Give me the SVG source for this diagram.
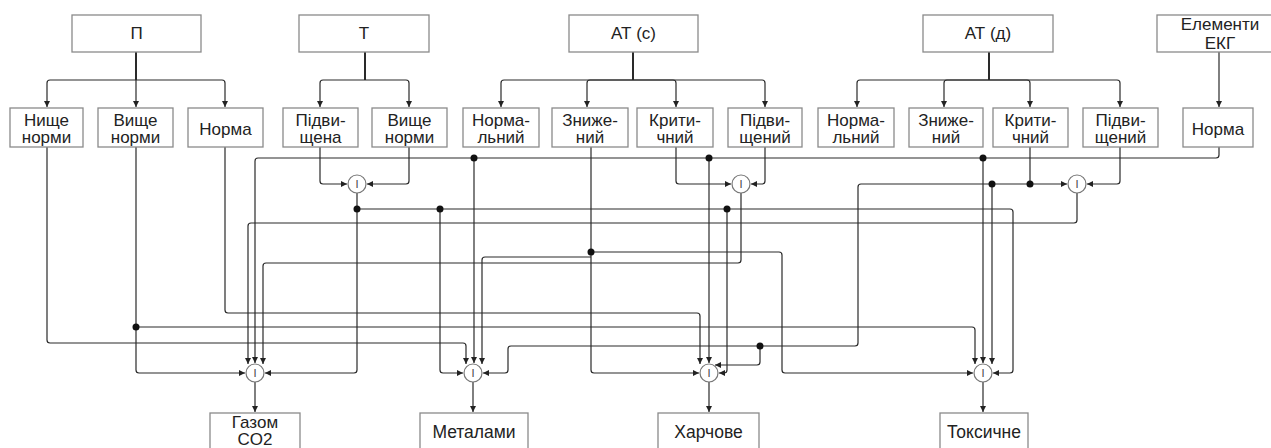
<svg xmlns="http://www.w3.org/2000/svg" width="1271" height="448" viewBox="0 0 1271 448">
<defs>
<marker id="arr" markerWidth="7" markerHeight="6" refX="6" refY="3" orient="auto" markerUnits="userSpaceOnUse"><path d="M0,0 L6,3 L0,6 z" fill="#222"/></marker>
<style>
.box{fill:#fff;stroke:#8a8a8a;stroke-width:1.3}
.t{font-family:"Liberation Sans",Arial,sans-serif;font-size:17px;fill:#222;text-anchor:middle}
.b{font-size:17.5px}
.c{fill:none;stroke:#2a2a2a;stroke-width:1.2}
.s{fill:none;stroke:#2a2a2a;stroke-width:2}
.a{marker-end:url(#arr)}
.dot{fill:#111}
.gate{fill:#fff;stroke:#777;stroke-width:1.2}
.g{font-family:"Liberation Sans",Arial,sans-serif;font-size:11px;fill:#444;text-anchor:middle}
</style>
</defs>
<rect width="1271" height="448" fill="#fff"/>

<g id="connectors">
<path class="s" d="M136 52V80"/>
<path class="c a" d="M136 80H50Q47 80 47 83V107"/>
<path class="c a" d="M136 80V107"/>
<path class="c a" d="M136 80H222Q225 80 225 83V107"/>
<path class="s" d="M365 52V80"/>
<path class="c a" d="M365 80H323Q320 80 320 83V107"/>
<path class="c a" d="M365 80H406Q409 80 409 83V107"/>
<path class="s" d="M633 52V80"/>
<path class="c a" d="M633 80H504Q501 80 501 83V107"/>
<path class="c a" d="M633 80H590Q587 80 587 83V107"/>
<path class="c a" d="M633 80H673Q676 80 676 83V107"/>
<path class="c a" d="M633 80H762Q765 80 765 83V107"/>
<path class="s" d="M989 52V80"/>
<path class="c a" d="M989 80H860Q857 80 857 83V107"/>
<path class="c a" d="M989 80H947Q944 80 944 83V107"/>
<path class="c a" d="M989 80H1027Q1030 80 1030 83V107"/>
<path class="c a" d="M989 80H1117Q1120 80 1120 83V107"/>
<path class="c a" d="M1219 52V107"/>

<path class="c a" d="M47 147V340Q47 343 50 343H463Q466 343 466 346V364"/>
<path class="c a" d="M136 147V370Q136 373 139 373H245"/>
<path class="c a" d="M136 327H972Q975 327 975 330V364"/>
<path class="c a" d="M225 147V310Q225 313 228 313H697Q700 313 700 316V364"/>
<path class="c a" d="M320 147V181Q320 184 323 184H347"/>
<path class="c a" d="M409 147V181Q409 184 406 184H367"/>
<path class="c a" d="M357 193V370Q357 373 354 373H265"/>
<path class="c a" d="M357 209H1010Q1013 209 1013 212V370Q1013 373 1010 373H993"/>
<path class="c a" d="M440 209V370Q440 373 443 373H463"/>
<path class="c a" d="M727 209V370Q727 373 724 373H719"/>
<path class="c a" d="M591 147V370Q591 373 594 373H699"/>
<path class="c a" d="M591 252H779Q782 252 782 255V370Q782 373 785 373H973"/>
<path class="c a" d="M591 257H485Q482 257 482 260V364"/>
<path class="c a" d="M676 147V181Q676 184 679 184H731"/>
<path class="c a" d="M765 147V181Q765 184 762 184H751"/>
<path class="c a" d="M741 193V260Q741 263 738 263H266Q263 263 263 266V364"/>
<path class="c" d="M1030 147V184"/>
<path class="c a" d="M1030 184H1067"/>
<path class="c a" d="M992 184V364"/>
<path class="c a" d="M1030 184H861Q858 184 858 187V343Q858 346 855 346H511Q508 346 508 349V370Q508 373 505 373H483"/>
<path class="c a" d="M760 346V362Q760 365 757 365H715"/>
<path class="c a" d="M1120 147V181Q1120 184 1117 184H1087"/>
<path class="c a" d="M1077 193V220Q1077 223 1074 223H251Q248 223 248 226V364"/>
<path class="c a" d="M1219 147V155Q1219 158 1216 158H258Q255 158 255 161V363"/>
<path class="c a" d="M474 158V363"/>
<path class="c a" d="M709 158V363"/>
<path class="c a" d="M983 158V363"/>
<path class="c a" d="M255 382V412"/>
<path class="c a" d="M473 382V412"/>
<path class="c a" d="M709 382V412"/>
<path class="c a" d="M983 382V412"/>
<circle class="dot" cx="136" cy="327" r="3.5"/>
<circle class="dot" cx="357" cy="209" r="3.5"/>
<circle class="dot" cx="440" cy="209" r="3.5"/>
<circle class="dot" cx="727" cy="209" r="3.5"/>
<circle class="dot" cx="474" cy="158" r="3.5"/>
<circle class="dot" cx="709" cy="158" r="3.5"/>
<circle class="dot" cx="983" cy="158" r="3.5"/>
<circle class="dot" cx="591" cy="252" r="3.5"/>
<circle class="dot" cx="1030" cy="184" r="3.5"/>
<circle class="dot" cx="992" cy="184" r="3.5"/>
<circle class="dot" cx="760" cy="346" r="3.5"/>
</g>

<g id="n-p"><rect class="box" x="72" y="15" width="129" height="37"/><text class="t" x="136.5" y="39">П</text></g>
<g id="n-t"><rect class="box" x="299" y="15" width="130" height="37"/><text class="t" x="364" y="39">Т</text></g>
<g id="n-atc"><rect class="box" x="569" y="15" width="129" height="37"/><text class="t" x="633.5" y="39">АТ (с)</text></g>
<g id="n-atd"><rect class="box" x="923" y="15" width="130" height="37"/><text class="t" x="988" y="39">АТ (д)</text></g>
<g id="n-ekg"><rect class="box" x="1157" y="15" width="126" height="37"/><text class="t" x="1220" y="30">Елементи</text><text class="t" x="1220" y="49">ЕКГ</text></g>

<g id="n-p1"><rect class="box" x="10" y="108" width="73" height="39"/><text class="t" x="46.5" y="126">Нище</text><text class="t" x="46.5" y="143">норми</text></g>
<g id="n-p2"><rect class="box" x="98" y="108" width="75" height="39"/><text class="t" x="135.5" y="126">Вище</text><text class="t" x="135.5" y="143">норми</text></g>
<g id="n-p3"><rect class="box" x="188" y="108" width="75" height="39"/><text class="t" x="225.5" y="135">Норма</text></g>
<g id="n-t1"><rect class="box" x="283" y="108" width="75" height="39"/><text class="t" x="320.5" y="126">Підви-</text><text class="t" x="320.5" y="143">щена</text></g>
<g id="n-t2"><rect class="box" x="372" y="108" width="75" height="39"/><text class="t" x="409.5" y="126">Вище</text><text class="t" x="409.5" y="143">норми</text></g>
<g id="n-c1"><rect class="box" x="463" y="108" width="76" height="39"/><text class="t" x="501" y="126">Норма-</text><text class="t" x="501" y="143">льний</text></g>
<g id="n-c2"><rect class="box" x="552" y="108" width="76" height="39"/><text class="t" x="590" y="126">Зниже-</text><text class="t" x="590" y="143">ний</text></g>
<g id="n-c3"><rect class="box" x="637" y="108" width="76" height="39"/><text class="t" x="675" y="126">Крити-</text><text class="t" x="675" y="143">чний</text></g>
<g id="n-c4"><rect class="box" x="728" y="108" width="74" height="39"/><text class="t" x="765" y="126">Підви-</text><text class="t" x="765" y="143">щений</text></g>
<g id="n-d1"><rect class="box" x="818" y="108" width="76" height="39"/><text class="t" x="856" y="126">Норма-</text><text class="t" x="856" y="143">льний</text></g>
<g id="n-d2"><rect class="box" x="909" y="108" width="74" height="39"/><text class="t" x="946" y="126">Зниже-</text><text class="t" x="946" y="143">ний</text></g>
<g id="n-d3"><rect class="box" x="993" y="108" width="75" height="39"/><text class="t" x="1030.5" y="126">Крити-</text><text class="t" x="1030.5" y="143">чний</text></g>
<g id="n-d4"><rect class="box" x="1083" y="108" width="75" height="39"/><text class="t" x="1120.5" y="126">Підви-</text><text class="t" x="1120.5" y="143">щений</text></g>
<g id="n-e1"><rect class="box" x="1183" y="108" width="70" height="39"/><text class="t" x="1218" y="135">Норма</text></g>

<g id="gate-t"><circle class="gate" cx="357" cy="184" r="9"/><text class="g" x="357" y="188">I</text></g>
<g id="gate-atc"><circle class="gate" cx="741" cy="184" r="9"/><text class="g" x="741" y="188">I</text></g>
<g id="gate-atd"><circle class="gate" cx="1077" cy="184" r="9"/><text class="g" x="1077" y="188">I</text></g>
<g id="gate-1"><circle class="gate" cx="255" cy="373" r="9"/><text class="g" x="255" y="377">I</text></g>
<g id="gate-2"><circle class="gate" cx="473" cy="373" r="9"/><text class="g" x="473" y="377">I</text></g>
<g id="gate-3"><circle class="gate" cx="709" cy="373" r="9"/><text class="g" x="709" y="377">I</text></g>
<g id="gate-4"><circle class="gate" cx="983" cy="373" r="9"/><text class="g" x="983" y="377">I</text></g>

<g id="n-gas"><rect class="box" x="210" y="413" width="90" height="42"/><text class="t" x="255" y="428">Газом</text><text class="t" x="255" y="445">CO2</text></g>
<g id="n-met"><rect class="box" x="420" y="413" width="108" height="42"/><text class="t b" x="474" y="438">Металами</text></g>
<g id="n-har"><rect class="box" x="658" y="413" width="101" height="42"/><text class="t b" x="708.5" y="438">Харчове</text></g>
<g id="n-tox"><rect class="box" x="940" y="413" width="88" height="42"/><text class="t b" x="984" y="438">Токсичне</text></g>
</svg>
